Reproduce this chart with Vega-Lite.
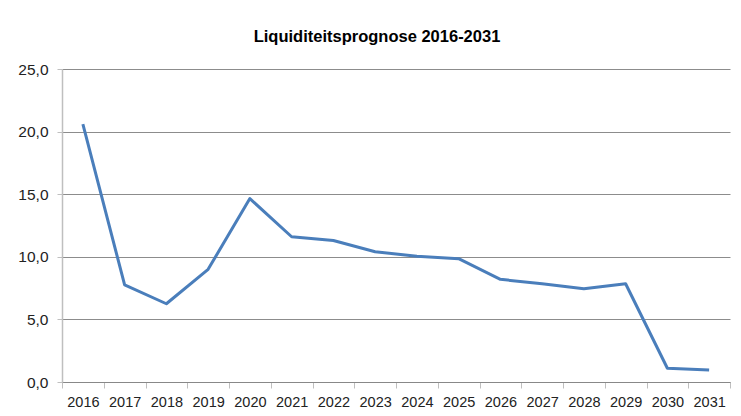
{
  "$schema": "https://vega.github.io/schema/vega-lite/v6.json",
  "width": 668,
  "height": 313,
  "autosize": {"type": "none"},
  "padding": {"left": 62, "top": 69, "right": 11, "bottom": 34},
  "background": "white",
  "title": {
    "text": "Liquiditeitsprognose 2016-2031",
    "font": "Liberation Sans",
    "fontSize": 16.5,
    "fontWeight": "bold",
    "color": "#000000",
    "anchor": "middle",
    "dx": -19,
    "offset": 17
  },
  "config": {
    "view": {"stroke": null},
    "locale": {"number": {"decimal": ",", "thousands": ".", "grouping": [3], "currency": ["", " €"]}}
  },
  "data": {
    "values": [
      {"jaar": "2016", "waarde": 20.6},
      {"jaar": "2017", "waarde": 7.75},
      {"jaar": "2018", "waarde": 6.25},
      {"jaar": "2019", "waarde": 9.0},
      {"jaar": "2020", "waarde": 14.65},
      {"jaar": "2021", "waarde": 11.6},
      {"jaar": "2022", "waarde": 11.3},
      {"jaar": "2023", "waarde": 10.4},
      {"jaar": "2024", "waarde": 10.05},
      {"jaar": "2025", "waarde": 9.85},
      {"jaar": "2026", "waarde": 8.2},
      {"jaar": "2027", "waarde": 7.85},
      {"jaar": "2028", "waarde": 7.45},
      {"jaar": "2029", "waarde": 7.85},
      {"jaar": "2030", "waarde": 1.1},
      {"jaar": "2031", "waarde": 0.95}
    ]
  },
  "mark": {"type": "line", "color": "#4A7EBB", "strokeWidth": 3, "strokeJoin": "round"},
  "encoding": {
    "x": {
      "field": "jaar",
      "type": "ordinal",
      "scale": {"type": "band", "paddingInner": 0, "paddingOuter": 0},
      "axis": {
        "title": null,
        "labelAngle": 0,
        "labelFont": "Liberation Sans",
        "labelFontSize": 14.5,
        "labelColor": "#222222",
        "labelPadding": 7,
        "domainColor": "#888888",
        "domainWidth": 1,
        "tickColor": "#BFBFBF",
        "tickSize": 6,
        "tickBand": "extent",
        "grid": false
      }
    },
    "y": {
      "field": "waarde",
      "type": "quantitative",
      "scale": {"domain": [0, 25], "nice": false},
      "axis": {
        "title": null,
        "values": [0, 5, 10, 15, 20, 25],
        "format": ".1f",
        "labelFont": "Liberation Sans",
        "labelFontSize": 15.5,
        "labelColor": "#222222",
        "labelPadding": 9,
        "domainColor": "#BFBFBF",
        "domainWidth": 1.5,
        "tickColor": "#BFBFBF",
        "tickSize": 5,
        "grid": true,
        "gridColor": "#8C8C8C",
        "gridWidth": 1,
        "gridOpacity": 1
      }
    }
  }
}
